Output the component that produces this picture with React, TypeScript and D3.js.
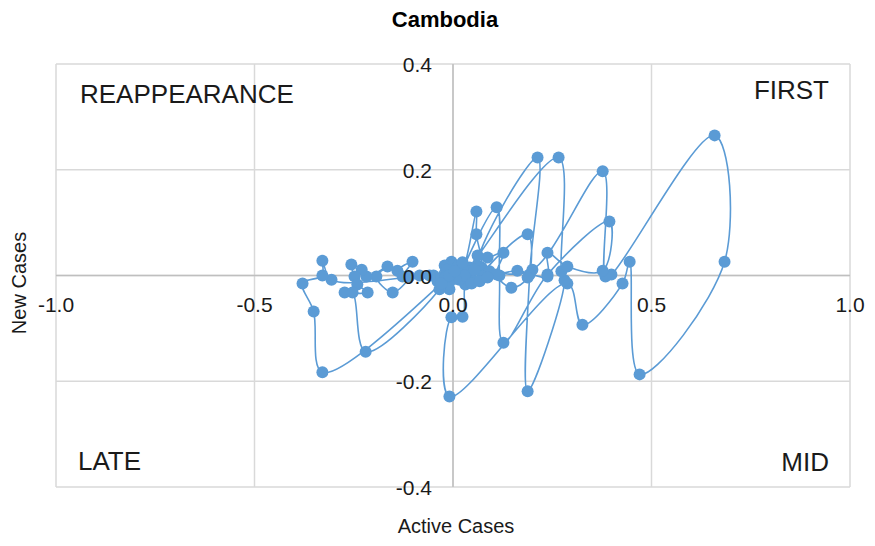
import React from "react";
import * as d3 from "d3";

const activeCases: number[] = [
  -0.001, 0.011, 0.024, 0.059, 0.059, 0.072, 0.047, 0.031, 0.024, -0.004,
  -0.009, 0.288, 0.326, 0.427, 0.445, 0.47, 0.684, 0.659, 0.399, 0.384,
  0.377, 0.2, 0.092, 0.062, 0.213, 0.193, 0.188, 0.281, 0.273, 0.266,
  0.042, 0.016, 0.11, 0.117, 0.127, 0.238, 0.394, 0.377, 0.288, 0.238,
  0.238, 0.162, 0.074, 0.188, 0.188, 0.147, 0.11, 0.127, 0.087, 0.062,
  0.037, -0.004, 0.014, 0.029, 0.047, 0.067, 0.087, 0.054, 0.024, -0.021,
  -0.039, -0.009,
  0.006, -0.016, -0.024, -0.011, -0.031, -0.049, -0.084, -0.14, -0.102, -0.127, -0.11,
  -0.152, -0.193, -0.165, -0.218, -0.23, -0.256, -0.248, -0.241, -0.215, -0.273,
  -0.253, -0.22, -0.034, -0.019, -0.059, -0.306, -0.329, -0.329, -0.379, -0.351,
  -0.329, -0.029, -0.009, 0.004,
];
const newCases: number[] = [
  0.0, 0.006, 0.011, 0.121, 0.078, 0.015, -0.006, -0.017, -0.078, -0.079,
  -0.229, -0.015, -0.093, -0.015, 0.026, -0.187, 0.026, 0.265, 0.002, -0.002,
  0.197, 0.011, 0.008, 0.019, 0.223, 0.002, -0.219, -0.009, 0.008, 0.223,
  0.015, -0.008, 0.129, 0.0, -0.127, 0.002, 0.102, 0.009, 0.017, 0.043,
  -0.002, 0.009, -0.002, 0.078, -0.004, -0.023, 0.002, 0.043, 0.034, 0.038,
  0.008, 0.026, 0.019, 0.0, -0.015, -0.011, -0.004, 0.011, 0.025, 0.019,
  -0.011, -0.026,
  -0.006, 0.011, -0.002, -0.015, -0.009, 0.0, 0.0, 0.009, 0.026, -0.002, -0.002,
  -0.032, -0.002, 0.017, -0.002, 0.011, 0.021, -0.002, -0.017, -0.032, -0.032,
  -0.032, -0.144, -0.026, -0.004, 0.0, -0.008, 0.028, 0.0, -0.015, -0.068,
  -0.183, -0.015, 0.0, 0.008,
];

const xTicks = [-1.0, -0.5, 0.0, 0.5, 1.0];
const yTicks = [-0.4, -0.2, 0.0, 0.2, 0.4];
const chartTitle = "Cambodia";
const xTitle = "Active Cases";
const yTitle = "New Cases";
const quadrantLabels = ["REAPPEARANCE", "FIRST", "LATE", "MID"];

const W = 875;
const H = 546;
const BLUE = "#5b9bd5";
const GRID = "#d9d9d9";
const FONT = "'Liberation Sans', Arial, sans-serif";

export default function App() {
  const x = d3.scaleLinear().domain([-1, 1]).range([56, 850]);
  const y = d3.scaleLinear().domain([-0.4, 0.4]).range([487, 64]);
  const pts: [number, number][] = activeCases.map((a, i) => [a, newCases[i]]);
  const line = d3
    .line<[number, number]>()
    .x((d) => x(d[0]))
    .y((d) => y(d[1]))
    .curve(d3.curveCatmullRom.alpha(0.5));
  const fmt = (v: number) => d3.format(".1f")(v).replace("\u2212", "-");

  return (
    <svg
      width={W}
      height={H}
      style={{ position: "absolute", left: 0, top: 0, background: "#fff" }}
      fontFamily={FONT}
    >
      <rect width={W} height={H} fill="#fff" />
      {xTicks.map((t) => (
        <line key={"gx" + t} x1={x(t)} x2={x(t)} y1={y(0.4)} y2={y(-0.4)} stroke={GRID} strokeWidth={1.5} />
      ))}
      {yTicks.map((t) => (
        <line key={"gy" + t} x1={x(-1)} x2={x(1)} y1={y(t)} y2={y(t)} stroke={GRID} strokeWidth={1.5} />
      ))}
      <line x1={x(0)} x2={x(0)} y1={y(0.4)} y2={y(-0.4)} stroke="#bfbfbf" strokeWidth={1.5} />
      <line x1={x(-1)} x2={x(1)} y1={y(0)} y2={y(0)} stroke="#bfbfbf" strokeWidth={1.5} />

      <path d={line(pts) || ""} fill="none" stroke={BLUE} strokeWidth={1.6} />
      {pts.map((p, i) => (
        <circle key={i} cx={x(p[0])} cy={y(p[1])} r={6} fill={BLUE} />
      ))}

      {xTicks.map((t) => (
        <text key={"tx" + t} x={x(t)} y={y(0) + 36} textAnchor="middle" fontSize={21} fill="#1a1a1a">
          {fmt(t)}
        </text>
      ))}
      {yTicks.map((t) => (
        <text key={"ty" + t} x={x(0) - 21} y={y(t) + 8} textAnchor="end" fontSize={21} fill="#1a1a1a">
          {fmt(t)}
        </text>
      ))}

      <text x={80} y={103} fontSize={26} fill="#1a1a1a">{quadrantLabels[0]}</text>
      <text x={829} y={99} fontSize={26} textAnchor="end" fill="#1a1a1a">{quadrantLabels[1]}</text>
      <text x={78} y={470} fontSize={26} fill="#1a1a1a">{quadrantLabels[2]}</text>
      <text x={829} y={471} fontSize={26} textAnchor="end" fill="#1a1a1a">{quadrantLabels[3]}</text>

      <text x={445} y={27} textAnchor="middle" fontSize={22} fontWeight="bold" fill="#000">{chartTitle}</text>
      <text x={456} y={533} textAnchor="middle" fontSize={20} fill="#1a1a1a">{xTitle}</text>
      <text transform={`translate(26,283) rotate(-90)`} textAnchor="middle" fontSize={20} fill="#1a1a1a">{yTitle}</text>
    </svg>
  );
}
